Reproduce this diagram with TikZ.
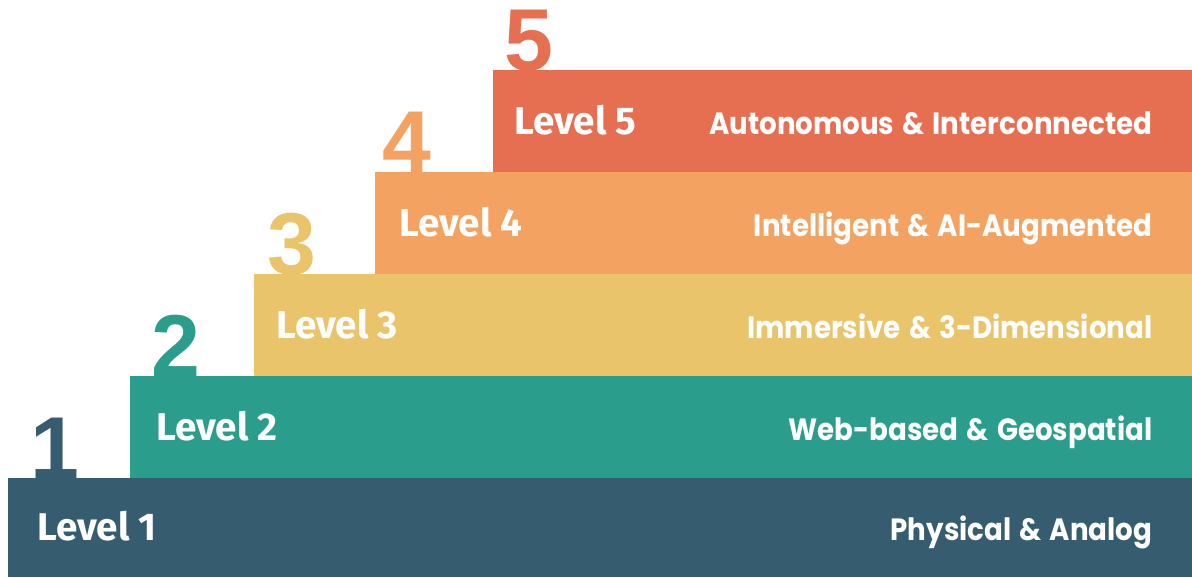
\documentclass[tikz,border=0pt]{standalone}
\usepackage{fontspec}
\setmainfont{Liberation Sans}
\newfontfamily\namefont{Fira Sans}
\newfontfamily\tagfont{Poppins}[FakeStretch=0.9, WordSpace=1.4]
\usepackage{tikz}
\usetikzlibrary{positioning}
\definecolor{lvlone}{HTML}{355C6F}
\definecolor{lvltwo}{HTML}{2A9D8C}
\definecolor{lvlthree}{HTML}{E9C46A}
\definecolor{lvlfour}{HTML}{F3A261}
\definecolor{lvlfive}{HTML}{E76F51}
\tikzset{
  level bar/.style={
    draw=none,
    anchor=south west,
    inner sep=0pt,
    minimum height=2.04cm
  },
  level name/.style={
    anchor=west,
    text=white,
    font=\namefont\bfseries\fontsize{22}{25}\selectfont,
    text height=0.72em, text depth=0pt,
    inner sep=0pt
  },
  level tag/.style={
    anchor=east,
    text=white,
    font=\tagfont\bfseries\fontsize{17.5}{20}\selectfont,
    text height=0.7em, text depth=0pt,
    inner sep=0pt
  },
  level num/.style={
    anchor=base,
    font=\bfseries\fontsize{50}{55}\selectfont,
    inner sep=0pt
  }
}

\begin{document}
\begin{tikzpicture}
  \useasboundingbox (0,0) rectangle (23.84,11.54);
  % step numbers sit on top of the step below them
  \node[level num, text=lvlone]   (num1) at (1.09,1.98) {1};
  \node[level num, text=lvltwo]   (num2) at (3.52,4.02) {2};
  \node[level num, text=lvlthree] (num3) at (5.84,6.04) {3};
  \node[level num, text=lvlfour]  (num4) at (8.14,8.08) {4};
  \node[level num, text=lvlfive]  (num5) at (10.58,10.12) {5};

  % the staircase
  \node[level bar, fill=lvlone, minimum width=23.68cm, minimum height=1.98cm] (bar1) at (0.16,0) {};
  \node[level bar, fill=lvltwo, minimum width=21.24cm] (bar2) at (2.60,1.98) {};
  \node[level bar, fill=lvlthree, minimum width=18.76cm] (bar3) at (5.08,4.02) {};
  \node[level bar, fill=lvlfour, minimum width=16.34cm] (bar4) at (7.50,6.06) {};
  \node[level bar, fill=lvlfive, minimum width=13.98cm] (bar5) at (9.86,8.10) {};

  % labels
  \foreach \i/\dx/\tag in {1/0.58/Physical \& Analog,
                           2/0.52/Web-based \& Geospatial,
                           3/0.44/Immersive \& 3-Dimensional,
                           4/0.48/Intelligent \& AI-Augmented,
                           5/0.42/Autonomous \& Interconnected}{
    \node[level name] (name\i) at ([xshift=\dx cm, yshift=-0.15cm]bar\i.west) {Level \i};
    \node[level tag] (tag\i) at ([xshift=-0.80cm, yshift=-0.15cm]bar\i.east) {\tag};
  }
\end{tikzpicture}
\end{document}
